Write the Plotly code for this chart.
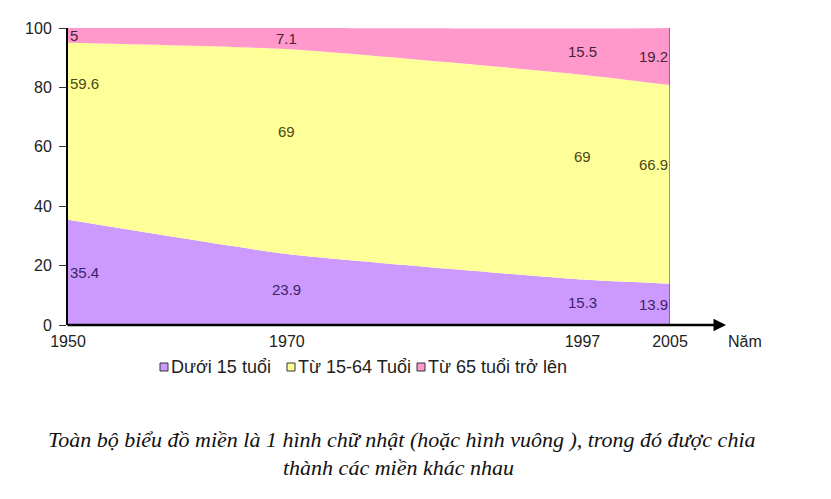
import plotly.graph_objects as go

# data (percent of population by age group)
years = [1950, 1970, 1997, 2005]
duoi_15 = [35.4, 23.9, 15.3, 13.9]
tu_15_64 = [59.6, 69, 69, 66.9]
tu_65 = [5, 7.1, 15.5, 19.2]

series_names = ["Dưới 15 tuổi", "Từ 15-64 Tuổi", "Từ 65 tuổi trở lên"]
y_ticks = [0, 20, 40, 60, 80, 100]
x_title = "Năm"
caption_lines = [
    "Toàn bộ biểu đồ miền là 1 hình chữ nhật (hoặc hình vuông ), trong đó được chia",
    "thành các miền khác nhau",
]

# style
FILLS = ["#CC99FF", "#FFFF99", "#FF99CC"]
LABEL_COLORS = ["#3b2466", "#4a4a12", "#4a1f35"]
# where the value label sits inside its band (0 = bottom, 1 = top)
LABEL_FRAC = [[0.5] * 4, [0.77, 0.6, 0.6, 0.6], [0.5] * 4]
FONT = "Liberation Sans, Arial, sans-serif"
SERIF = "Liberation Serif, Times New Roman, serif"

# plot box in figure pixels
M_L, M_T, P_W, P_H = 60, 20, 602, 297
W, H = 831, 499


def px_x(px):
    return (px - M_L) / P_W


def px_y(py):
    return (M_T + P_H - py) / P_H


fig = go.Figure()
all_series = [duoi_15, tu_15_64, tu_65]
for name, vals, fill in zip(series_names, all_series, FILLS):
    fig.add_trace(go.Scatter(
        x=years, y=vals, name=name,
        mode="lines", stackgroup="one",
        line=dict(width=0, shape="spline", smoothing=0.5),
        fillcolor=fill,
        hoverinfo="skip", showlegend=False,
    ))

# value labels inside each band
base = [0] * len(years)
for s, vals in enumerate(all_series):
    for i, yr in enumerate(years):
        if i == 0:
            anchor = "left"
        elif i == len(years) - 1:
            anchor = "right"
        else:
            anchor = "center"
        fig.add_annotation(
            x=yr, y=base[i] + vals[i] * LABEL_FRAC[s][i],
            text=str(vals[i]), showarrow=False, xanchor=anchor,
            font=dict(family=FONT, size=15, color=LABEL_COLORS[s]),
        )
    base = [b + v for b, v in zip(base, vals)]

# x axis drawn as an arrow past the plot
fig.add_annotation(
    x=px_x(718), y=0, xref="paper", yref="y",
    ax=-660, ay=0, axref="pixel", ayref="pixel",
    showarrow=True, arrowhead=2, arrowsize=1, arrowwidth=2.5,
    arrowcolor="#000000", text="",
)
fig.add_annotation(
    x=px_x(718), y=0, xref="paper", yref="y", yshift=-16,
    text=x_title, showarrow=False, xanchor="left",
    font=dict(family=FONT, size=16, color="#222222"),
)
# right border of the plot
fig.add_shape(type="line", x0=2005, x1=2005, y0=0, y1=100,
              xref="x", yref="y", line=dict(color="#333333", width=1))

# legend: small bordered squares followed by the names
legend_sq = [152, 279, 409]
legend_y = px_y(359)
sq = 8
for name, fill, x0 in zip(series_names, FILLS, legend_sq):
    fig.add_shape(
        type="rect", xref="paper", yref="paper",
        x0=px_x(x0), x1=px_x(x0 + sq),
        y0=legend_y - sq / 2 / P_H, y1=legend_y + sq / 2 / P_H,
        fillcolor=fill, line=dict(color="#333333", width=1),
    )
    fig.add_annotation(
        x=px_x(x0 + sq + 1), y=legend_y, xref="paper", yref="paper",
        text=name, showarrow=False, xanchor="left", yanchor="middle",
        font=dict(family=FONT, size=18, color="#222222"),
    )

# caption below the chart
for line, cx, cy in zip(caption_lines, [394, 390], [432, 459]):
    fig.add_annotation(
        x=px_x(cx), y=px_y(cy), xref="paper", yref="paper",
        text="<i>" + line + "</i>", showarrow=False,
        xanchor="center", yanchor="middle",
        font=dict(family=SERIF, size=22, color="#111111"),
    )

fig.update_layout(
    width=W, height=H,
    margin=dict(l=M_L, r=W - M_L - P_W, t=M_T, b=H - M_T - P_H),
    paper_bgcolor="white", plot_bgcolor="white",
    showlegend=False,
    font=dict(family=FONT, size=16, color="#222222"),
)
fig.update_xaxes(
    range=[1950, 2005], tickvals=years, showgrid=False, zeroline=False,
    showline=False, ticks="", tickfont=dict(size=16), ticklabelstandoff=5,
)
fig.update_yaxes(
    range=[0, 100], tickvals=y_ticks, showgrid=False, zeroline=False,
    showline=True, linecolor="#000000", linewidth=2,
    ticks="outside", ticklen=7, tickcolor="#333333", tickfont=dict(size=16),
    ticklabelstandoff=4,
)

fig.write_html("out.html")
